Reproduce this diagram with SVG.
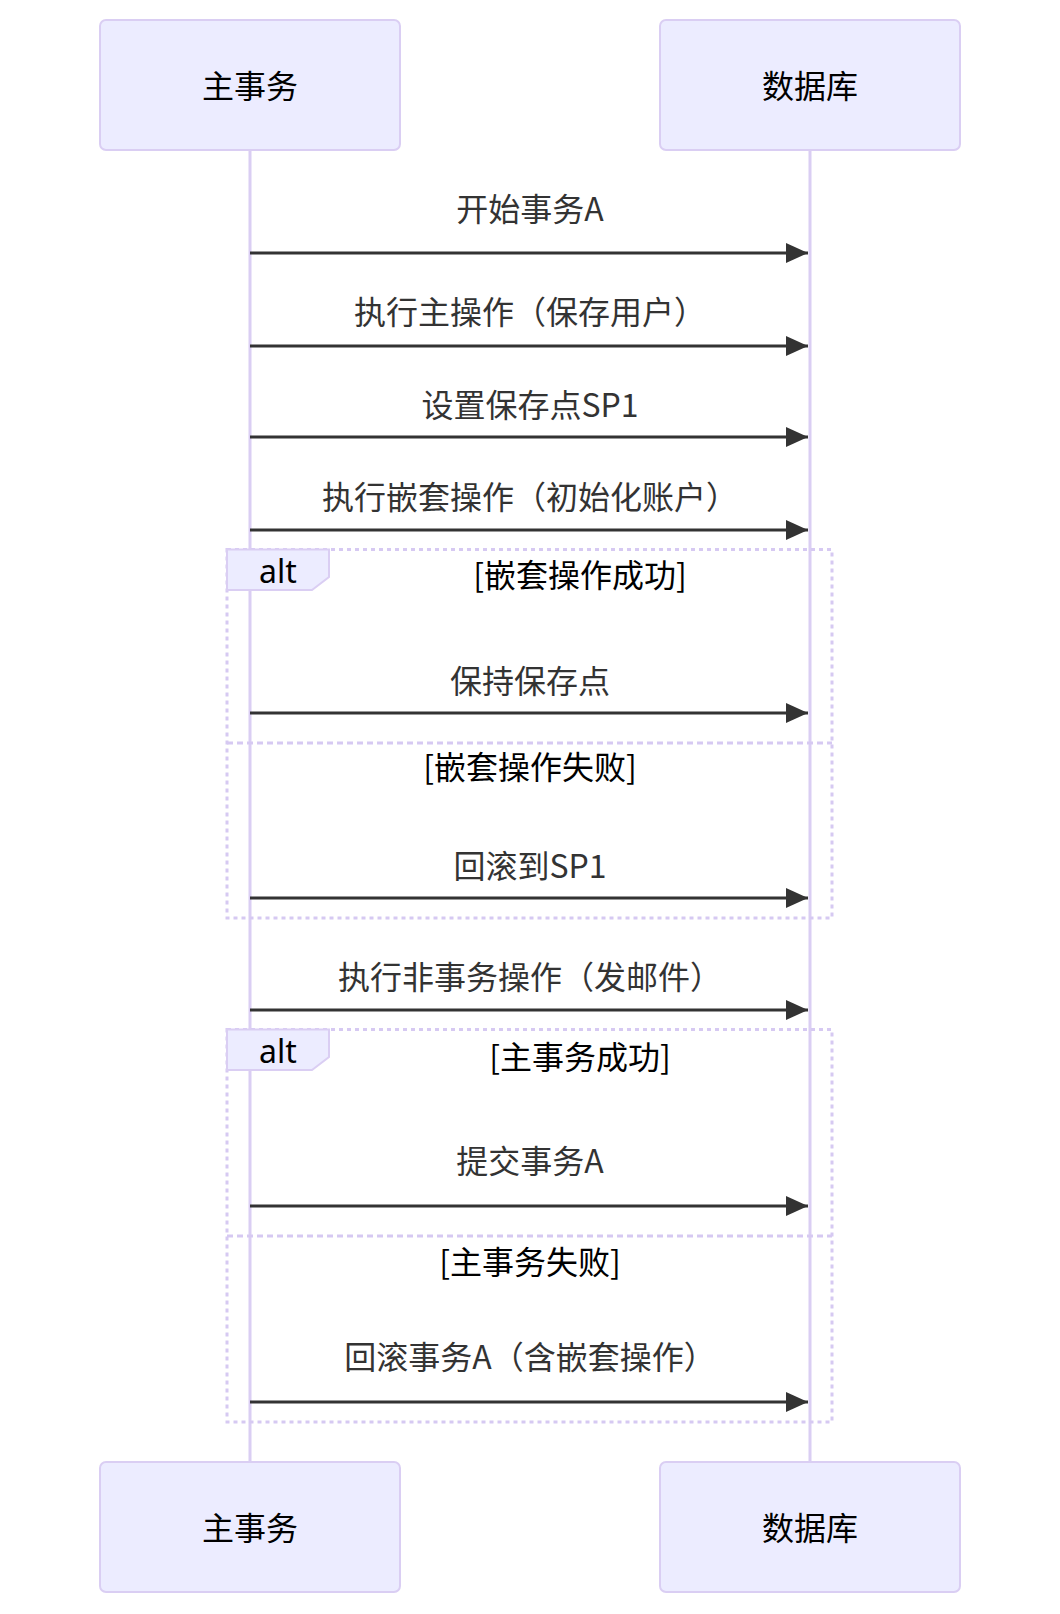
<svg xmlns="http://www.w3.org/2000/svg" width="1060" height="1614" viewBox="0 0 1060 1614">
<style>
.actor{fill:#ECECFF;stroke:#DACEF3;stroke-width:2}
.actorText{font-family:"Noto Sans CJK SC","Noto Sans",sans-serif;font-size:32px;fill:#000;text-anchor:middle}
.lifeline{stroke:#DACEF3;stroke-width:3}
.msg{stroke:#333;stroke-width:3;fill:none}
.msgText{font-family:"Noto Sans CJK SC","Noto Sans",sans-serif;font-size:32px;fill:#333;text-anchor:middle}
.loop{fill:none;stroke:#D6C9F2;stroke-width:3;stroke-dasharray:4 4}
.divider{stroke:#D6C9F2;stroke-width:3;stroke-dasharray:6 4}
.labelBox{fill:#ECECFF;stroke:#DACEF3;stroke-width:2}
.labelText{font-family:"Noto Sans","Noto Sans CJK SC",sans-serif;font-size:32px;fill:#000;text-anchor:middle}
.condText{font-family:"Noto Sans CJK SC","Noto Sans",sans-serif;font-size:32px;fill:#000;text-anchor:middle}
</style>
<defs>
<marker id="arrow" markerUnits="userSpaceOnUse" viewBox="0 0 22 20" markerWidth="22" markerHeight="20" refX="22" refY="10" orient="auto">
<path d="M0,0 L22,10 L0,20 z" fill="#333"/>
</marker>
</defs>
<rect width="1060" height="1614" fill="#fff"/>
<g id="lifelines">
<line class="lifeline" x1="250" y1="150" x2="250" y2="1462"/>
<line class="lifeline" x1="810" y1="150" x2="810" y2="1462"/>
</g>
<g id="actor-main-top">
<rect class="actor" x="100" y="20" width="300" height="130" rx="6"/>
<text class="actorText" x="250" y="98">主事务</text>
</g>
<g id="actor-db-top">
<rect class="actor" x="660" y="20" width="300" height="130" rx="6"/>
<text class="actorText" x="810" y="98">数据库</text>
</g>
<g id="actor-main-bottom">
<rect class="actor" x="100" y="1462" width="300" height="130" rx="6"/>
<text class="actorText" x="250" y="1540">主事务</text>
</g>
<g id="actor-db-bottom">
<rect class="actor" x="660" y="1462" width="300" height="130" rx="6"/>
<text class="actorText" x="810" y="1540">数据库</text>
</g>
<g id="alt1">
<rect class="loop" x="227" y="549.5" width="605" height="368.5"/>
<line class="divider" x1="227" y1="743" x2="832" y2="743"/>
<polygon class="labelBox" points="227,549.5 329,549.5 329,577 312,590 227,590"/>
<text class="labelText" x="278" y="583">alt</text>
<text class="condText" x="580" y="587">[嵌套操作成功]</text>
<text class="condText" x="530" y="779">[嵌套操作失败]</text>
</g>
<g id="alt2">
<rect class="loop" x="227" y="1029.5" width="605" height="392.5"/>
<line class="divider" x1="227" y1="1236" x2="832" y2="1236"/>
<polygon class="labelBox" points="227,1029.5 329,1029.5 329,1057 312,1070 227,1070"/>
<text class="labelText" x="278" y="1063">alt</text>
<text class="condText" x="580" y="1069">[主事务成功]</text>
<text class="condText" x="530" y="1274">[主事务失败]</text>
</g>
<g id="messages">
<text class="msgText" x="530" y="221">开始事务A</text>
<line class="msg" x1="250" y1="253" x2="808" y2="253" marker-end="url(#arrow)"/>
<text class="msgText" x="530" y="324">执行主操作（保存用户）</text>
<line class="msg" x1="250" y1="346" x2="808" y2="346" marker-end="url(#arrow)"/>
<text class="msgText" x="530" y="417">设置保存点SP1</text>
<line class="msg" x1="250" y1="437" x2="808" y2="437" marker-end="url(#arrow)"/>
<text class="msgText" x="530" y="509">执行嵌套操作（初始化账户）</text>
<line class="msg" x1="250" y1="530" x2="808" y2="530" marker-end="url(#arrow)"/>
<text class="msgText" x="530" y="693">保持保存点</text>
<line class="msg" x1="250" y1="713" x2="808" y2="713" marker-end="url(#arrow)"/>
<text class="msgText" x="530" y="878">回滚到SP1</text>
<line class="msg" x1="250" y1="898" x2="808" y2="898" marker-end="url(#arrow)"/>
<text class="msgText" x="530" y="989">执行非事务操作（发邮件）</text>
<line class="msg" x1="250" y1="1010" x2="808" y2="1010" marker-end="url(#arrow)"/>
<text class="msgText" x="530" y="1173">提交事务A</text>
<line class="msg" x1="250" y1="1206" x2="808" y2="1206" marker-end="url(#arrow)"/>
<text class="msgText" x="530" y="1369">回滚事务A（含嵌套操作）</text>
<line class="msg" x1="250" y1="1402" x2="808" y2="1402" marker-end="url(#arrow)"/>
</g>
</svg>
